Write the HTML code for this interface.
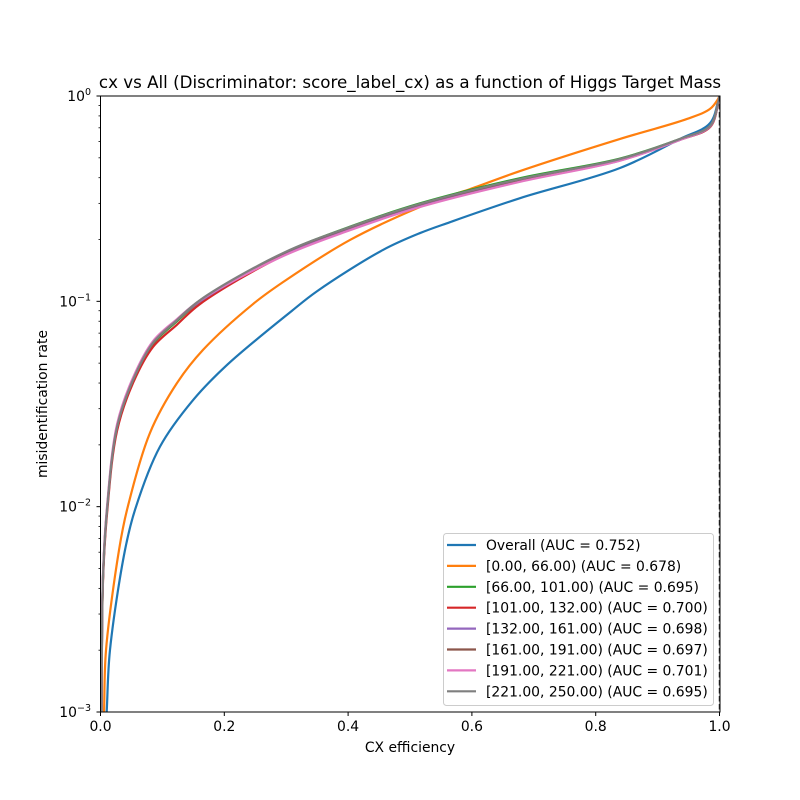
<!DOCTYPE html>
<html><head><meta charset="utf-8"><style>
body{margin:0;background:#fff}
svg{display:block;font-family:"DejaVu Sans","Liberation Sans",sans-serif}
</style></head><body>
<svg id="chart" width="800" height="800" viewBox="0 0 800 800" xmlns="http://www.w3.org/2000/svg">
<rect width="800" height="800" fill="#fff"/>
<text x="410" y="88" font-size="16.7" text-anchor="middle">cx vs All (Discriminator: score_label_cx) as a function of Higgs Target Mass</text>
<g id="curves"></g>
<line x1="719.5" y1="96" x2="719.5" y2="712" stroke="#333" stroke-width="1.5" stroke-dasharray="5.5,2.5"/>
<rect x="100.5" y="96" width="619.5" height="616" fill="none" stroke="#000" stroke-width="1"/>
<g id="axes"></g>
<text x="410" y="752" font-size="13.9" text-anchor="middle">CX efficiency</text>
<text x="47" y="404" font-size="13.9" text-anchor="middle" transform="rotate(-90 47 404)">misidentification rate</text>
<g id="legend"></g>
</svg>
<script>
const seriesLabels=["Overall (AUC = 0.752)","[0.00, 66.00) (AUC = 0.678)","[66.00, 101.00) (AUC = 0.695)","[101.00, 132.00) (AUC = 0.700)","[132.00, 161.00) (AUC = 0.698)","[161.00, 191.00) (AUC = 0.697)","[191.00, 221.00) (AUC = 0.701)","[221.00, 250.00) (AUC = 0.695)"];
const seriesColors=["#1f77b4","#ff7f0e","#2ca02c","#d62728","#9467bd","#8c564b","#e377c2","#7f7f7f"];
const effBlue=[0.010,0.0153,0.0396,0.0557,0.0961,0.1494,0.2044,0.3094,0.3498,0.4564,0.5162,0.5646,0.6777,0.8393,0.9362,0.9847,1];
const misBlue=[0.001,0.002,0.00615,0.00964,0.0196,0.033,0.049,0.090,0.112,0.178,0.215,0.243,0.318,0.446,0.618,0.738,1];
const effOrange=[0.0057,0.0089,0.0299,0.0428,0.080,0.1236,0.1656,0.2464,0.2948,0.4031,0.5113,0.5646,0.5969,0.6777,0.8393,0.9475,0.9847,0.9976,1];
const misOrange=[0.001,0.002,0.00615,0.00964,0.0229,0.040,0.058,0.097,0.124,0.199,0.284,0.327,0.352,0.431,0.618,0.773,0.865,0.966,1];
const effGreen=[0.0016,0.004,0.0105,0.0267,0.0525,0.0848,0.1236,0.1607,0.2948,0.4031,0.5162,0.6777,0.8393,0.9362,0.9847,0.9976,1];
const misGreen=[0.001,0.0045,0.0096,0.0242,0.041,0.062,0.080,0.100,0.171,0.231,0.300,0.398,0.496,0.618,0.712,0.92,1];
const effRed=[0.0016,0.004,0.0105,0.0267,0.0525,0.0848,0.1236,0.1607,0.2948,0.4031,0.5162,0.6777,0.8393,0.9362,0.9847,0.9976,1];
const misRed=[0.001,0.0043,0.0092,0.0234,0.040,0.060,0.077,0.097,0.167,0.225,0.292,0.386,0.487,0.612,0.705,0.91,1];
const effPurple=[0.0016,0.004,0.0105,0.0267,0.0525,0.0848,0.1236,0.1607,0.2948,0.4031,0.5162,0.6777,0.8393,0.9362,0.9847,0.9976,1];
const misPurple=[0.001,0.0046,0.0097,0.0246,0.0416,0.0628,0.081,0.100,0.168,0.225,0.291,0.385,0.485,0.612,0.71,0.92,1];
const effBrown=[0.0016,0.004,0.0105,0.0267,0.0525,0.0848,0.1236,0.1607,0.2948,0.4031,0.5162,0.6777,0.8393,0.9362,0.9847,0.9976,1];
const misBrown=[0.001,0.0045,0.0096,0.0243,0.0412,0.0625,0.081,0.101,0.171,0.229,0.297,0.392,0.492,0.616,0.713,0.92,1];
const effPink=[0.0016,0.004,0.0105,0.0267,0.0525,0.0848,0.1236,0.1607,0.2948,0.4031,0.5162,0.6777,0.8393,0.9362,0.9847,0.9976,1];
const misPink=[0.001,0.0047,0.0100,0.0252,0.0425,0.064,0.082,0.101,0.166,0.222,0.288,0.382,0.484,0.612,0.712,0.92,1];
const effGray=[0.0016,0.004,0.0105,0.0267,0.0525,0.0848,0.1236,0.1607,0.2948,0.4031,0.5162,0.6777,0.8393,0.9362,0.9847,0.9976,1];
const misGray=[0.001,0.0045,0.00964,0.0244,0.0414,0.0627,0.0811,0.1014,0.1718,0.230,0.298,0.394,0.493,0.618,0.715,0.925,1];
const xTicks=[0,0.2,0.4,0.6,0.8,1.0];
const xTickLabels=["0.0","0.2","0.4","0.6","0.8","1.0"];
const yTickExps=[-3,-2,-1,0];

const NS="http://www.w3.org/2000/svg";
const X0=100.5,X1=719.5,Y0=712,Y1=96;
function xs(v){return X0+(X1-X0)*v;}
function ys(v){return Y0-(Y0-Y1)*(Math.log10(v)+3)/3;}
function mk(tag,attrs,parent){const e=document.createElementNS(NS,tag);for(const k in attrs)e.setAttribute(k,attrs[k]);parent.appendChild(e);return e;}

const effs=[effBlue,effOrange,effGreen,effRed,effPurple,effBrown,effPink,effGray];
const miss=[misBlue,misOrange,misGreen,misRed,misPurple,misBrown,misPink,misGray];
const curves=document.getElementById('curves');
function pathFor(ex,my){
  const p=ex.map((e,i)=>[xs(e),ys(my[i])]);
  const n=p.length;
  const ext=[[2*p[0][0]-p[1][0],2*p[0][1]-p[1][1]],...p,[2*p[n-1][0]-p[n-2][0],2*p[n-1][1]-p[n-2][1]]];
  function dist(a,b){return Math.pow(Math.hypot(b[0]-a[0],b[1]-a[1]),0.5)||1e-6;}
  let d="M"+p[0][0].toFixed(2)+","+p[0][1].toFixed(2);
  for(let i=1;i<ext.length-2;i++){
    const P0=ext[i-1],P1=ext[i],P2=ext[i+1],P3=ext[i+2];
    const d1=dist(P0,P1),d2=dist(P1,P2),d3=dist(P2,P3);
    const t1=[0,1].map(k=>((P1[k]-P0[k])/d1-(P2[k]-P0[k])/(d1+d2)+(P2[k]-P1[k])/d2)*d2);
    const t2=[0,1].map(k=>((P2[k]-P1[k])/d2-(P3[k]-P1[k])/(d2+d3)+(P3[k]-P2[k])/d3)*d2);
    const a=[P1[0]+t1[0]/3,P1[1]+t1[1]/3],b=[P2[0]-t2[0]/3,P2[1]-t2[1]/3];
    d+=" C"+a.map(v=>v.toFixed(2)).join(",")+" "+b.map(v=>v.toFixed(2)).join(",")+" "+P2.map(v=>v.toFixed(2)).join(",");
  }
  return d;
}
const clip=mk('clipPath',{id:'pc'},document.getElementById('chart'));
mk('rect',{x:X0,y:Y1,width:X1-X0,height:Y0-Y1},clip);
curves.setAttribute('clip-path','url(#pc)');
for(let s=0;s<effs.length;s++){
  const el=mk('path',{d:pathFor(effs[s],miss[s]),fill:'none',stroke:seriesColors[s],'stroke-width':2.2,'stroke-linejoin':'round'},curves);
  
  
}
const axes=document.getElementById('axes');
xTicks.forEach((t,i)=>{
  const x=xs(t);
  const l=mk('line',{x1:x,y1:712,x2:x,y2:716,stroke:'#000'},axes);
  
  
  const tx=mk('text',{x:x,y:731,'font-size':13.9,'text-anchor':'middle'},axes);
  tx.textContent=xTickLabels[i];
  
  
});
yTickExps.forEach(e=>{
  const y=ys(Math.pow(10,e));
  const l=mk('line',{x1:96.5,y1:y,x2:100.5,y2:y,stroke:'#000'},axes);
  
  
  const tx=mk('text',{x:91,y:y+5,'font-size':13.9,'text-anchor':'end'},axes);
  
  
  const b=mk('tspan',{},tx);b.textContent='10';
  const s=mk('tspan',{dy:-6,'font-size':9.5},tx);s.textContent=String(e).replace('-','\u2212');
  if(e<0){for(let m=2;m<10;m++){const yy=ys(m*Math.pow(10,e));
    const ml=mk('line',{x1:98.5,y1:yy,x2:100.5,y2:yy,stroke:'#000','stroke-width':0.8},axes);
    
    }}
});
const lg=document.getElementById('legend');
const box=mk('rect',{x:443.5,y:533.5,width:270,height:172,rx:3,fill:'#fff','fill-opacity':0.8,stroke:'#ccc'},lg);


seriesLabels.forEach((lab,i)=>{
  const y=545+i*20.9;
  const g=mk('g',{},lg);
  
  
  mk('line',{x1:447,y1:y,x2:476,y2:y,stroke:seriesColors[i],'stroke-width':2.2},g);
  const t=mk('text',{x:486,y:y+5,'font-size':13.9},g);
  t.textContent=lab;
});
</script>
</body></html>
